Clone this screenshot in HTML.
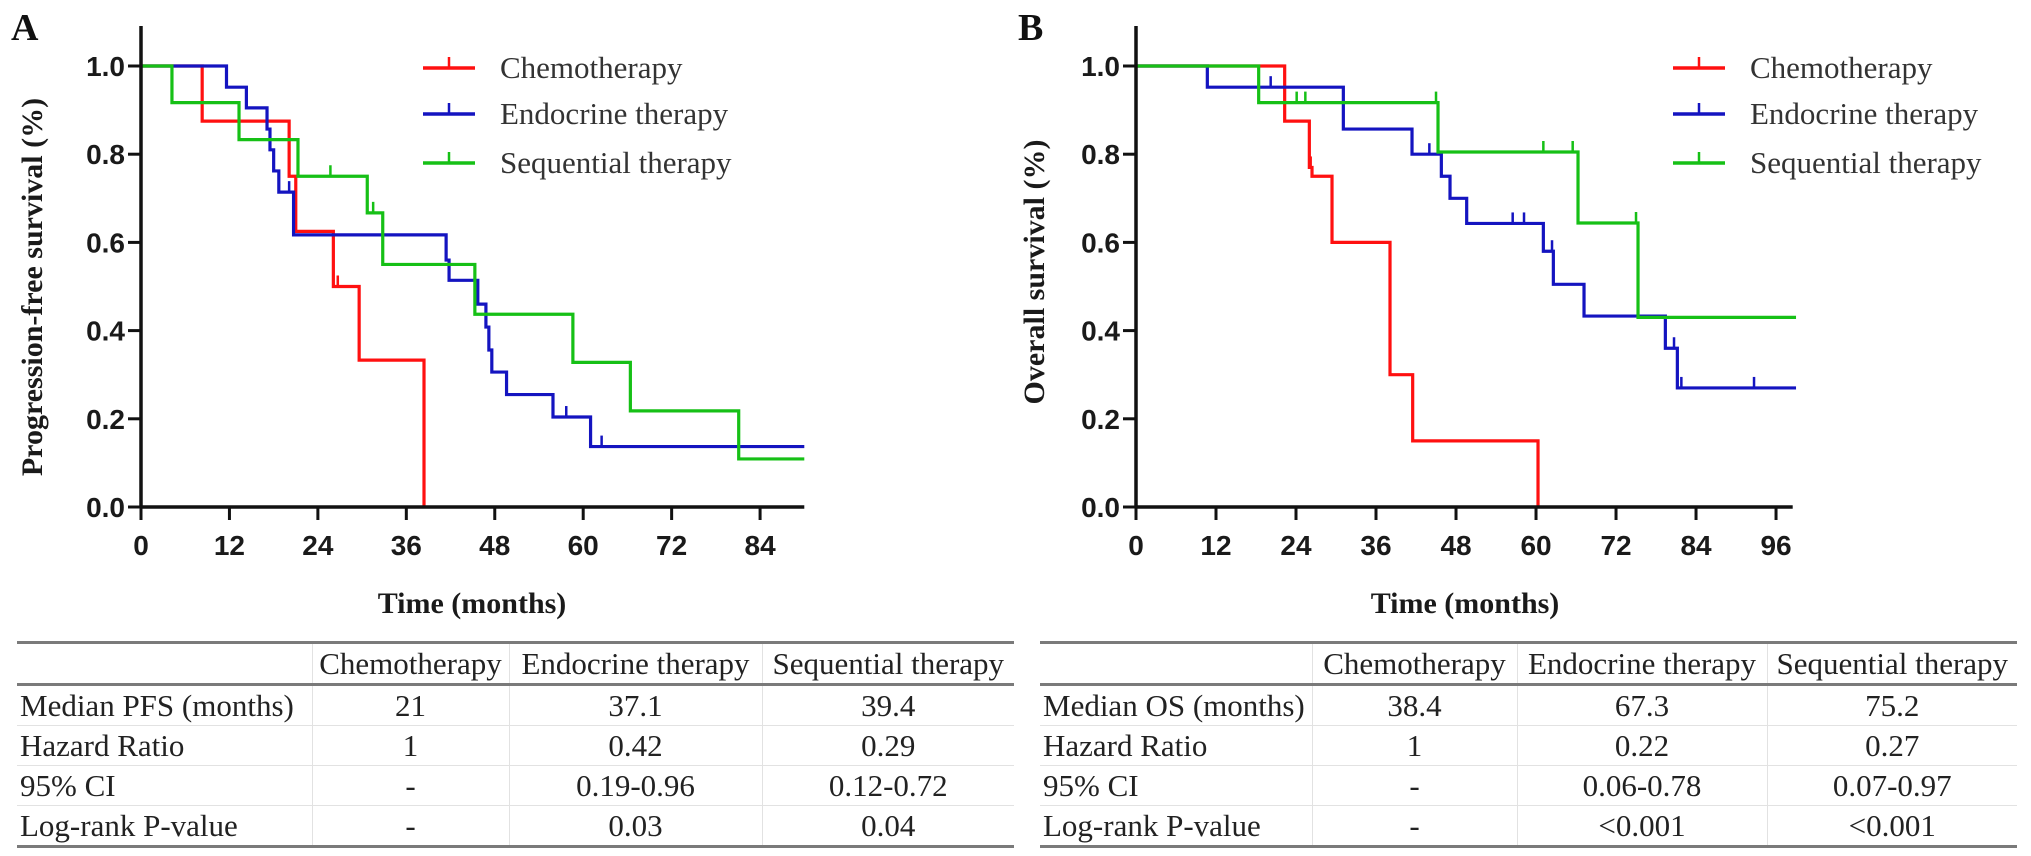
<!DOCTYPE html>
<html><head><meta charset="utf-8">
<style>
body{margin:0;background:#fff;width:2031px;height:856px;overflow:hidden;position:relative;font-family:"Liberation Serif",serif;}
svg{position:absolute;left:0;top:0}
table{position:absolute;border-collapse:collapse;font-family:"Liberation Serif",serif;font-size:31px;color:#222;table-layout:fixed}
td{border-left:1px solid #e2e2e2;border-top:1px solid #e2e2e2;padding:0 3px;height:39px;line-height:39px;text-align:center;white-space:nowrap;overflow:visible}
td:first-child{border-left:none;text-align:left}
tr:first-child td{border-top:none}
tr.hdr td{border-bottom:3px solid #7a7a7a}
table{border-top:3px solid #7a7a7a;border-bottom:3px solid #7a7a7a}
</style></head>
<body>
<svg id="chart" width="2031" height="856"></svg>

<table id="tabA" style="left:17px;top:641px;width:997px">
<colgroup><col style="width:295px"><col style="width:197px"><col style="width:253px"><col style="width:252px"></colgroup>
<tr class="hdr"><td></td><td>Chemotherapy</td><td>Endocrine therapy</td><td>Sequential therapy</td></tr>
<tr><td>Median PFS (months)</td><td>21</td><td>37.1</td><td>39.4</td></tr>
<tr><td>Hazard Ratio</td><td>1</td><td>0.42</td><td>0.29</td></tr>
<tr><td>95% CI</td><td>-</td><td>0.19-0.96</td><td>0.12-0.72</td></tr>
<tr><td>Log-rank P-value</td><td>-</td><td>0.03</td><td>0.04</td></tr>
</table>

<table id="tabB" style="left:1040px;top:641px;width:977px">
<colgroup><col style="width:272px"><col style="width:205px"><col style="width:250px"><col style="width:250px"></colgroup>
<tr class="hdr"><td></td><td>Chemotherapy</td><td>Endocrine therapy</td><td>Sequential therapy</td></tr>
<tr><td>Median OS (months)</td><td>38.4</td><td>67.3</td><td>75.2</td></tr>
<tr><td>Hazard Ratio</td><td>1</td><td>0.22</td><td>0.27</td></tr>
<tr><td>95% CI</td><td>-</td><td>0.06-0.78</td><td>0.07-0.97</td></tr>
<tr><td>Log-rank P-value</td><td>-</td><td>&lt;0.001</td><td>&lt;0.001</td></tr>
</table>

<script>
// ---- Panel A (PFS) data ----
const xTicksA = [0,12,24,36,48,60,72,84];
const yTicks = [0,0.2,0.4,0.6,0.8,1.0];
const yTickLabels = ["0.0","0.2","0.4","0.6","0.8","1.0"];
const seriesNames = ["Chemotherapy","Endocrine therapy","Sequential therapy"];

const chemoA_t = [8.3,20.1,21.0,26.1,29.6,38.4];
const chemoA_s = [0.875,0.75,0.625,0.5,0.333,0];
const chemoA_end = 38.4;
const chemoA_cens_t = [26.7];
const chemoA_cens_s = [0.5];

const endoA_t = [11.6,14.3,17.1,17.5,18.0,18.7,20.7,41.4,41.8,45.7,46.8,47.2,47.6,49.6,55.9,61.0];
const endoA_s = [0.952,0.905,0.857,0.81,0.762,0.714,0.617,0.56,0.514,0.46,0.408,0.356,0.306,0.255,0.204,0.137];
const endoA_end = 90;
const endoA_cens_t = [20.1,57.7,62.5];
const endoA_cens_s = [0.714,0.204,0.137];

const seqA_t = [4.2,13.3,21.3,30.7,32.8,45.3,58.6,66.4,81.1];
const seqA_s = [0.917,0.833,0.75,0.667,0.55,0.437,0.328,0.218,0.109];
const seqA_end = 90;
const seqA_cens_t = [25.7,31.5];
const seqA_cens_s = [0.75,0.667];

// ---- Panel B (OS) data ----
const xTicksB = [0,12,24,36,48,60,72,84,96];

const chemoB_t = [22.3,26.0,26.4,29.4,38.1,41.5,60.3];
const chemoB_s = [0.875,0.77,0.75,0.6,0.3,0.15,0];
const chemoB_end = 60.3;
const chemoB_cens_t = [26.2];
const chemoB_cens_s = [0.77];

const endoB_t = [10.7,31.1,41.4,45.8,47.1,49.6,61.1,62.6,67.2,79.4,81.2];
const endoB_s = [0.952,0.857,0.80,0.75,0.70,0.643,0.58,0.505,0.433,0.36,0.27];
const endoB_end = 99;
const endoB_cens_t = [20.2,44.0,56.5,58.2,62.4,80.7,81.8,92.7];
const endoB_cens_s = [0.952,0.80,0.643,0.643,0.58,0.36,0.27,0.27];

const seqB_t = [18.4,45.3,66.3,75.3];
const seqB_s = [0.917,0.805,0.644,0.43];
const seqB_end = 99;
const seqB_cens_t = [24.1,25.4,45.0,61.1,65.5,75.0];
const seqB_cens_s = [0.917,0.917,0.917,0.805,0.805,0.644];

const NS = "http://www.w3.org/2000/svg";
const svg = document.getElementById('chart');
const COLORS = ["#ff1010","#1414c0","#16c016"];

function mk(tag, attrs, parent){
  const e = document.createElementNS(NS, tag);
  for (const k in attrs) e.setAttribute(k, attrs[k]);
  (parent||svg).appendChild(e);
  return e;
}

function panel(cfg){
  const g = mk('g', {});
  
  
  const X = t => cfg.x0 + t * cfg.pxPerMonth;
  const Y = s => cfg.y0 - s * cfg.pxPerUnit;

  // series
  cfg.series.forEach((sr, i) => {
    let d = `M${X(0)},${Y(1)}`;
    let prev = 1;
    for (let k = 0; k < sr.t.length; k++) {
      d += ` H${X(sr.t[k])} V${Y(sr.s[k])}`;
      prev = sr.s[k];
    }
    if (sr.end > sr.t[sr.t.length-1]) d += ` H${X(sr.end)}`;
    const p = mk('path', {d: d, fill: 'none', stroke: COLORS[i], 'stroke-width': 3.2, 'stroke-linejoin': 'miter'}, g);
    
    
    for (let k = 0; k < sr.ct.length; k++) {
      const c = mk('line', {x1: X(sr.ct[k]), x2: X(sr.ct[k]), y1: Y(sr.cs[k]), y2: Y(sr.cs[k]) - 11, stroke: COLORS[i], 'stroke-width': 2.5}, g);
      
      
    }
  });

  // axes
  const ya = mk('line', {x1: cfg.x0, x2: cfg.x0, y1: cfg.yTop, y2: cfg.y0 + 1.5, stroke: '#111', 'stroke-width': 3.5}, g);
  
  
  const xa = mk('line', {x1: cfg.x0 - 1.5, x2: X(cfg.xMax), y1: cfg.y0, y2: cfg.y0, stroke: '#111', 'stroke-width': 3.5}, g);
  
  

  yTicks.forEach((v, k) => {
    mk('line', {x1: cfg.x0 - 13, x2: cfg.x0, y1: Y(v), y2: Y(v), stroke: '#111', 'stroke-width': 3}, g);
    const t = mk('text', {x: cfg.x0 - 16, y: Y(v) + 10, 'text-anchor': 'end', 'font-family': '"Liberation Sans", sans-serif', 'font-weight': 'bold', 'font-size': 28, fill: '#1a1a1a'}, g);
    t.textContent = yTickLabels[k];
    
    
  });
  cfg.xTicks.forEach(v => {
    mk('line', {x1: X(v), x2: X(v), y1: cfg.y0, y2: cfg.y0 + 13, stroke: '#111', 'stroke-width': 3}, g);
    const t = mk('text', {x: X(v), y: cfg.y0 + 48, 'text-anchor': 'middle', 'font-family': '"Liberation Sans", sans-serif', 'font-weight': 'bold', 'font-size': 28, fill: '#1a1a1a'}, g);
    t.textContent = String(v);
    
    
  });

  const xt = mk('text', {x: cfg.xTitleX, y: 613, 'text-anchor': 'middle', 'font-family': '"Liberation Serif", serif', 'font-weight': 'bold', 'font-size': 30, fill: '#1a1a1a'}, g);
  xt.textContent = 'Time (months)';
  
  

  const yt = mk('text', {x: 0, y: 0, 'text-anchor': 'middle', 'font-family': '"Liberation Serif", serif', 'font-weight': 'bold', 'font-size': 30, fill: '#1a1a1a', transform: `translate(${cfg.yTitleX},${cfg.yTitleY}) rotate(-90)`}, g);
  yt.textContent = cfg.yTitle;
  
  

  const pl = mk('text', {x: cfg.labelX, y: 40, 'font-family': '"Liberation Serif", serif', 'font-weight': 'bold', 'font-size': 38, fill: '#111'}, g);
  pl.textContent = cfg.label;
  
  

  // legend
  const legYs = [68, 114, 163];
  seriesNames.forEach((nm, i) => {
    const lg = mk('g', {}, g);
    
    
    const y = legYs[i];
    mk('line', {x1: cfg.legX, x2: cfg.legX + 52, y1: y, y2: y, stroke: COLORS[i], 'stroke-width': 3.5}, lg);
    mk('line', {x1: cfg.legX + 26, x2: cfg.legX + 26, y1: y, y2: y - 11, stroke: COLORS[i], 'stroke-width': 2.5}, lg);
    const t = mk('text', {x: cfg.legX + 77, y: y + 10, 'font-family': '"Liberation Serif", serif', 'font-size': 31, fill: '#333'}, lg);
    t.textContent = nm;
  });
}

panel({
  name: 'pfs-panel', prefix: 'pfs', label: 'A', labelX: 11,
  x0: 141, pxPerMonth: 7.37, y0: 507, pxPerUnit: 441, yTop: 26, xMax: 90,
  xTicks: xTicksA, xTitleX: 472, yTitle: 'Progression-free survival (%)', yTitleX: 42, yTitleY: 287,
  legX: 423,
  series: [
    {key: 'chemotherapy', t: chemoA_t, s: chemoA_s, end: chemoA_end, ct: chemoA_cens_t, cs: chemoA_cens_s},
    {key: 'endocrine', t: endoA_t, s: endoA_s, end: endoA_end, ct: endoA_cens_t, cs: endoA_cens_s},
    {key: 'sequential', t: seqA_t, s: seqA_s, end: seqA_end, ct: seqA_cens_t, cs: seqA_cens_s}
  ]
});
panel({
  name: 'os-panel', prefix: 'os', label: 'B', labelX: 1018,
  x0: 1136, pxPerMonth: 6.667, y0: 507, pxPerUnit: 441, yTop: 26, xMax: 98.5,
  xTicks: xTicksB, xTitleX: 1465, yTitle: 'Overall survival (%)', yTitleX: 1044, yTitleY: 272,
  legX: 1673,
  series: [
    {key: 'chemotherapy', t: chemoB_t, s: chemoB_s, end: chemoB_end, ct: chemoB_cens_t, cs: chemoB_cens_s},
    {key: 'endocrine', t: endoB_t, s: endoB_s, end: endoB_end, ct: endoB_cens_t, cs: endoB_cens_s},
    {key: 'sequential', t: seqB_t, s: seqB_s, end: seqB_end, ct: seqB_cens_t, cs: seqB_cens_s}
  ]
});
</script>
</body></html>
